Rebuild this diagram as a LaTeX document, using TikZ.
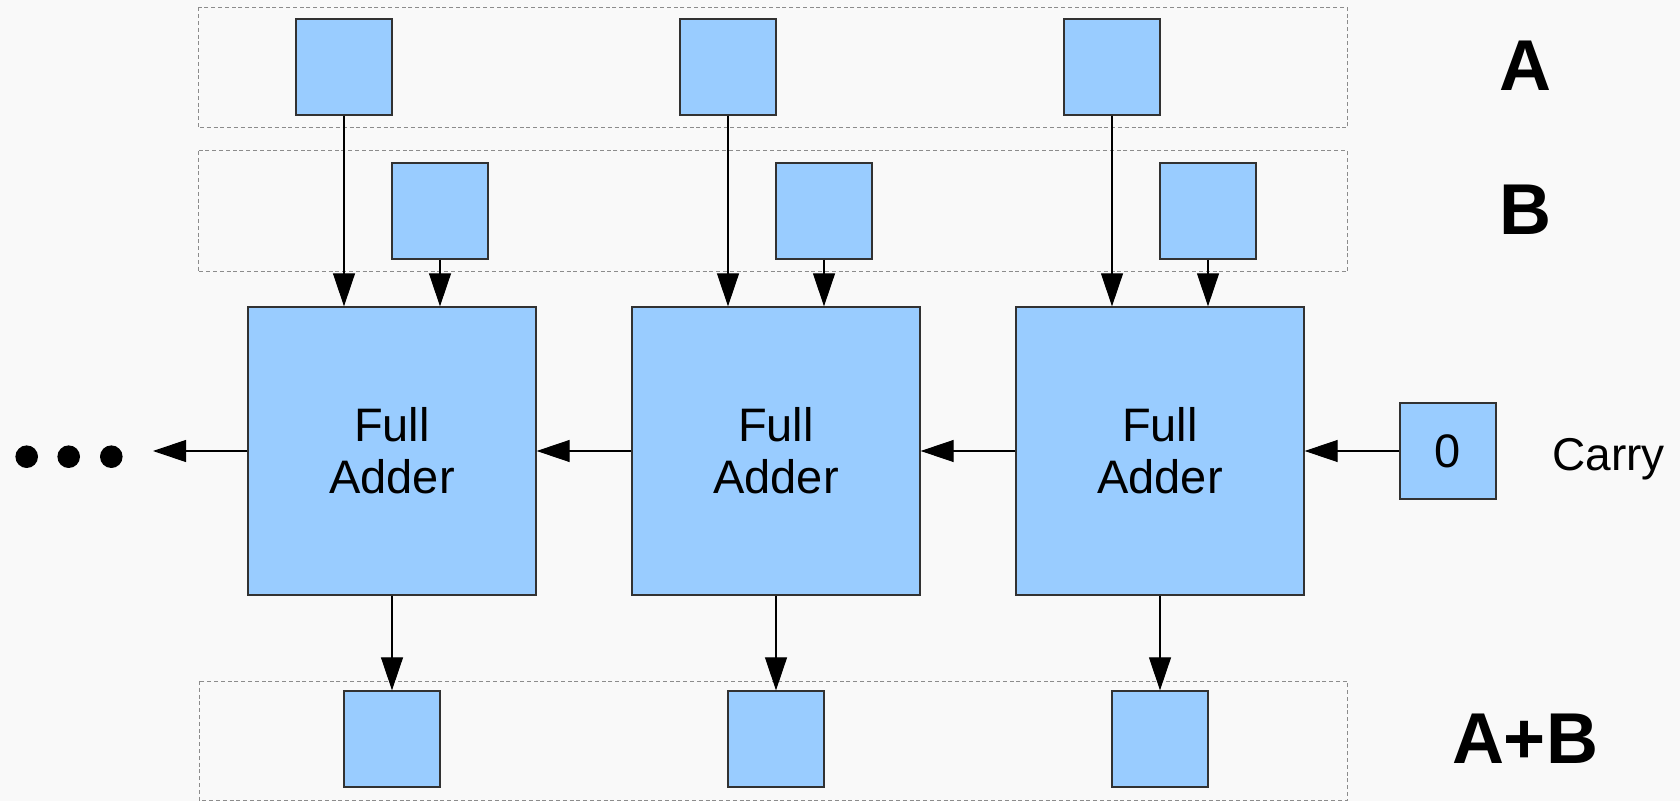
\documentclass[tikz,border=0pt]{standalone}
\usepackage{fontspec}
\setmainfont{Liberation Sans}
\usetikzlibrary{arrows.meta}
\definecolor{boxblue}{RGB}{153,204,255}
\definecolor{bg}{RGB}{249,249,249}
\definecolor{dashgray}{RGB}{140,140,140}
\definecolor{edge}{RGB}{50,50,50}
\begin{document}
\begin{tikzpicture}[x=0.5pt,y=-0.5pt,
  smallbox/.style={draw=edge,fill=boxblue,line width=0.65pt,minimum width=48pt,minimum height=48pt,inner sep=0pt,font=\fontsize{23.5pt}{26pt}\selectfont},
  fabox/.style={draw=edge,fill=boxblue,line width=0.65pt,minimum width=144pt,minimum height=144pt,inner sep=0pt,align=center,font=\fontsize{23.5pt}{26pt}\selectfont},
  groupbox/.style={draw=dashgray,line width=0.5pt,dash pattern=on 2pt off 1.4pt},
  arr/.style={draw=black,line width=0.55pt,-{Triangle[length=16.5pt,width=11pt]}},
  biglabel/.style={font=\fontsize{36pt}{40pt}\selectfont\bfseries,inner sep=0pt},
  plainlabel/.style={font=\fontsize{23pt}{26pt}\selectfont,inner sep=0pt}]
\useasboundingbox (0,0) rectangle (1680,801);
\fill[bg] (0,0) rectangle (1680,801);
% group frames
\draw[groupbox] (198,7.5) rectangle (1347.5,128);
\draw[groupbox] (198,151) rectangle (1347.5,272);
\draw[groupbox] (199,681) rectangle (1347.5,800);
% A inputs
\node[smallbox] (a1) at (344,67) {};
\node[smallbox] (a2) at (728,67) {};
\node[smallbox] (a3) at (1112,67) {};
% B inputs
\node[smallbox] (b1) at (440,211) {};
\node[smallbox] (b2) at (824,211) {};
\node[smallbox] (b3) at (1208,211) {};
% full adders
\node[fabox] (fa1) at (392,451) {Full\\Adder};
\node[fabox] (fa2) at (776,451) {Full\\Adder};
\node[fabox] (fa3) at (1160,451) {Full\\Adder};
% outputs
\node[smallbox] (s1) at (392,739) {};
\node[smallbox] (s2) at (776,739) {};
\node[smallbox] (s3) at (1160,739) {};
% carry in
\node[smallbox] (c0) at (1448,451) {0};
\node[plainlabel,anchor=base west] (carry) at (1552,471) {Carry};
% labels
\node[biglabel] (la) at (1525,66) {A};
\node[biglabel] (lb) at (1525,210) {B};
\node[biglabel] (lab) at (1525,739) {A+B};
% dots
\coordinate (dotsend) at (153,451);
\fill[black] (26.7,456.7) circle[radius=11.3];
\fill[black] (68.7,456.7) circle[radius=11.3];
\fill[black] (111.3,456.7) circle[radius=11.3];
% connectors
\foreach \i in {1,2,3}{
  \draw[arr] (a\i.south) -- (a\i.south |- fa\i.north);
  \draw[arr] (b\i.south) -- (b\i.south |- fa\i.north);
  \draw[arr] (fa\i.south) -- (s\i.north);
}
\draw[arr] (c0.west) -- (fa3.east);
\draw[arr] (fa3.west) -- (fa2.east);
\draw[arr] (fa2.west) -- (fa1.east);
\draw[arr] (fa1.west) -- (dotsend);
\end{tikzpicture}
\end{document}
